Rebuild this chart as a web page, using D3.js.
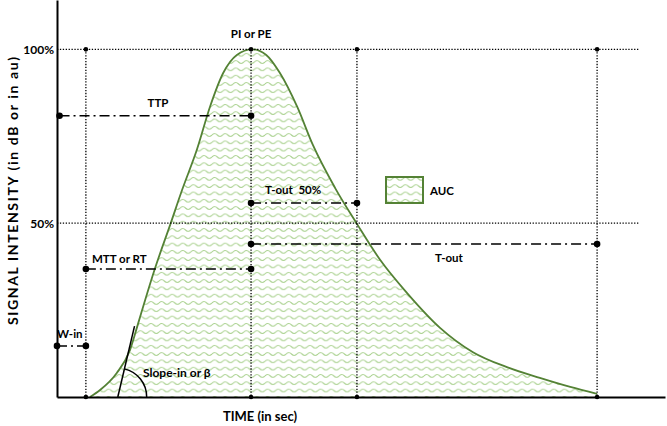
<!DOCTYPE html>
<html><head><meta charset="utf-8">
<script src="https://cdn.jsdelivr.net/npm/d3@7/dist/d3.min.js"></script>
<style>
html,body{margin:0;padding:0;background:#fff;}
svg{display:block;}
text{font-family:Lato,"Open Sans",sans-serif;font-weight:bold;fill:#000;white-space:pre;}
</style></head>
<body>
<svg id="c" width="667" height="426"></svg>
<script>
// ---- data (time in s, signal in %) ----
const curveTime   = [6.5, 8.5, 11.8, 14.4, 15.8, 17.4, 19.3, 22.4, 24.7, 27.6, 30.2, 32.8, 35.5, 38.5, 41.3, 44.0, 47.4, 50.5, 54.9, 59.2, 63.8, 69.1, 75.6, 82.1, 88.8, 95.3, 101.3, 106.6];
const curveSignal = [0, 2.0, 6.9, 13.5, 20.1, 27.9, 36.8, 49.8, 59.6, 71.1, 83.5, 93.2, 98.4, 100, 98.4, 93.2, 83.5, 72.5, 60.1, 49.8, 39.4, 29.9, 19.9, 12.9, 8.6, 5.5, 2.9, 0.9];
const yTickValues = [50, 100];
const yTickLabels = ["50%", "100%"];
const markerTimes = [5.7, 38.3, 59.2, 106.6];      // W-in end, PI/PE, T-out 50% end, T-out end
const refLineEnd = 115;                             // extent of 100% / 50% dotted lines
const levelTTP = 80.9, levelT50 = 55.8, levelTout = 44.0, levelMTT = 36.8, levelWin = 14.7;
const slopeStart = [12.0, 0], slopeEnd = [15.3, 20.4], slopeArcTime = 17.7;

const svg = d3.select("#c");
const x = d3.scaleLinear().domain([0, 120]).range([57, 665]);
const y = d3.scaleLinear().domain([0, 114.2]).range([397, 0]);
const pts = curveTime.map((t, i) => [t, curveSignal[i]]);

// pattern
const defs = svg.append("defs");
const pat = defs.append("pattern").attr("id", "wave").attr("patternUnits", "userSpaceOnUse")
  .attr("width", 10.6).attr("height", 7.3);
pat.append("path").attr("d", "M0 3.65 Q2.65 0.9 5.3 3.65 T10.6 3.65")
  .attr("fill", "none").attr("stroke", "#a9d18e").attr("stroke-width", 1.1);

// area
const [t0, tPeak, t50, tEnd] = markerTimes;
svg.append("path").datum(pts)
  .attr("d", d3.area().x(d => x(d[0])).y0(y(0)).y1(d => y(d[1])).curve(d3.curveMonotoneX))
  .attr("fill", "url(#wave)");
svg.append("path").datum(pts)
  .attr("d", d3.line().x(d => x(d[0])).y(d => y(d[1])).curve(d3.curveMonotoneX))
  .attr("fill", "none").attr("stroke", "#548235").attr("stroke-width", 1.8);

// dotted reference lines
const dotted = (x1, y1, x2, y2) => svg.append("line").attr("x1", x1).attr("y1", y1).attr("x2", x2).attr("y2", y2)
  .attr("stroke", "#000").attr("stroke-width", 1.3).attr("stroke-dasharray", "1.3,1.6");
yTickValues.forEach(v => dotted(x(0), y(v), x(refLineEnd), y(v)));
markerTimes.forEach(t => dotted(x(t), y(100), x(t), y(0)));

// axes
const gx = svg.append("g").attr("transform", `translate(0,${y(0)})`)
  .call(d3.axisBottom(x).tickValues([]).tickSizeOuter(0));
const gy = svg.append("g").attr("transform", `translate(${x(0)},0)`)
  .call(d3.axisLeft(y).tickValues(yTickValues).tickFormat((d, i) => yTickLabels[i]).tickSize(0).tickPadding(3));
[gx, gy].forEach(g => { g.select(".domain").attr("stroke", "#000").attr("stroke-width", 2); });
gy.selectAll("text").attr("font-size", 12).attr("font-family", "Lato,'Open Sans',sans-serif").attr("font-weight", "bold").attr("dy", "0.35em");

// small dots
markerTimes.forEach(t => {
  svg.append("circle").attr("cx", x(t)).attr("cy", y(100)).attr("r", 2.3);
  svg.append("circle").attr("cx", x(t)).attr("cy", y(0)).attr("r", 2.3);
});

// dash-dot measurement lines
const dashdot = (ta, tb, lvl, rad) => {
  svg.append("line").attr("x1", x(ta)).attr("x2", x(tb)).attr("y1", y(lvl)).attr("y2", y(lvl))
    .attr("stroke", "#000").attr("stroke-width", 1.5).attr("stroke-dasharray", "10,4,2,4");
  [ta, tb].forEach(t => svg.append("circle").attr("cx", x(t)).attr("cy", y(lvl)).attr("r", rad));
};
dashdot(0.5, tPeak, levelTTP, 3.3);
dashdot(tPeak, t50, levelT50, 3.3);
dashdot(tPeak, tEnd, levelTout, 3.3);
dashdot(t0, tPeak, levelMTT, 3.3);
dashdot(0, t0, levelWin, 3.3);

// slope
svg.append("line").attr("x1", x(slopeStart[0])).attr("y1", y(slopeStart[1]))
  .attr("x2", x(slopeEnd[0])).attr("y2", y(slopeEnd[1])).attr("stroke", "#000").attr("stroke-width", 1.5);
{
  const cx = x(slopeStart[0]), cy = y(slopeStart[1]);
  const r = x(slopeArcTime) - cx;
  const a = Math.atan2(y(slopeEnd[1]) - cy, x(slopeEnd[0]) - cx);
  const p = d3.path();
  p.moveTo(cx + r * Math.cos(a), cy + r * Math.sin(a));
  p.arc(cx, cy, r, a, 0, false);
  svg.append("path").attr("d", p.toString()).attr("fill", "none").attr("stroke", "#000").attr("stroke-width", 1.5);
}

// legend
svg.append("rect").attr("x", 386).attr("y", 177).attr("width", 37).attr("height", 26)
  .attr("fill", "url(#wave)").attr("stroke", "#548235").attr("stroke-width", 2);

// labels
const label = (txt, px, py, anchor = "start", size = 11.5) =>
  svg.append("text").attr("x", px).attr("y", py).attr("text-anchor", anchor).attr("font-size", size).text(txt);
label("PI or PE", x(tPeak), y(100) - 11, "middle");
label("TTP", 158, y(levelTTP) - 9, "middle");
label("T-out  50%", 265, y(levelT50) - 9);
label("MTT or RT", 92, y(levelMTT) - 6.5);
label("T-out", 435, y(levelTout) + 18);
label("W-in", 57, y(levelWin) - 7.5);
label("Slope-in or β", 143, 377, "start", 12);
label("AUC", 430, 195);
label("TIME (in sec)", 260, 421, "middle", 13);
svg.append("text").attr("transform", "translate(18,191) rotate(-90)").attr("text-anchor", "middle")
  .attr("font-size", 14).attr("textLength", 268).attr("lengthAdjust", "spacing")
  .text("SIGNAL INTENSITY (in dB or in au)");
</script>
</body></html>
